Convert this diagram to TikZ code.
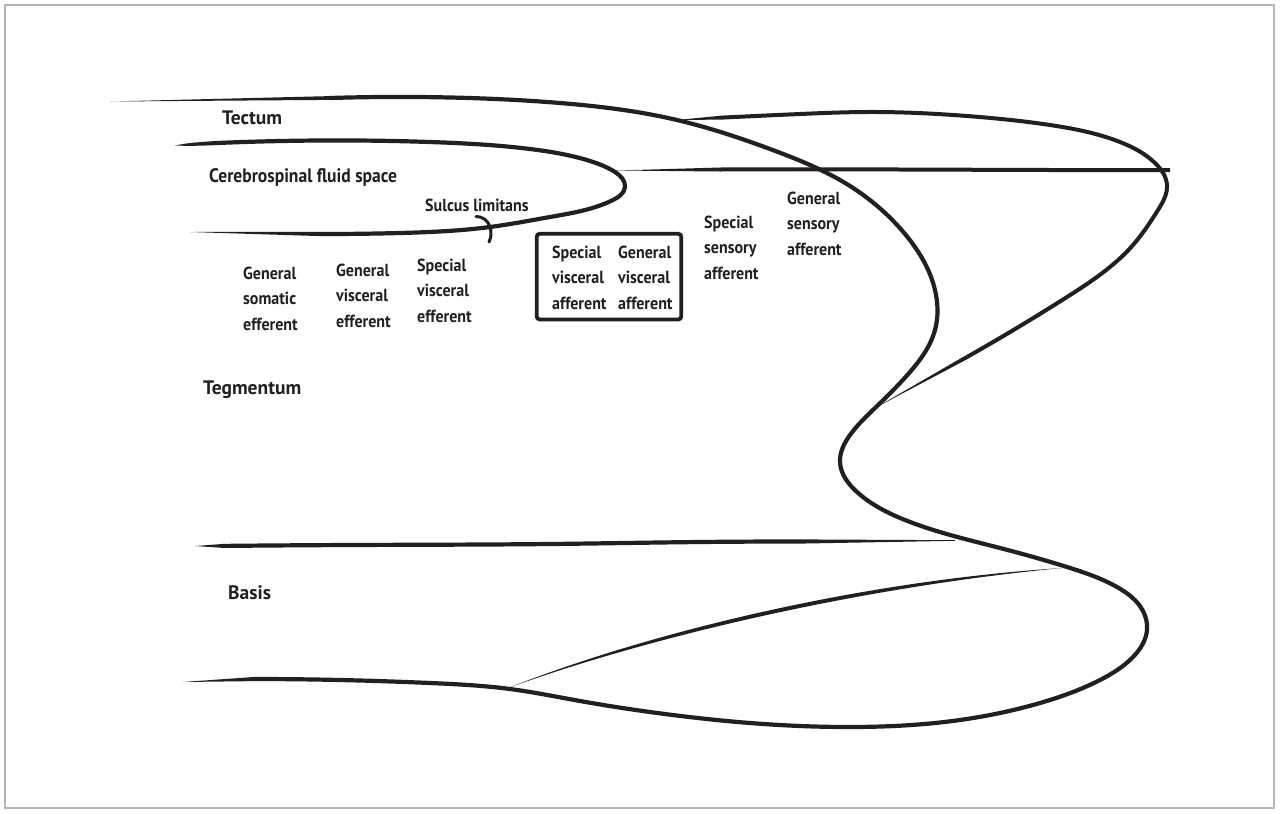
\documentclass[tikz,border=0pt]{standalone}
\usepackage{fontspec}
\newfontfamily\lblfont{PT Sans}
\usetikzlibrary{hobby}

\definecolor{inkc}{HTML}{231F20}
\definecolor{framec}{HTML}{B5B5B5}

\tikzset{
  contour/.style={draw=inkc, line width=#1, line join=round, use Hobby shortcut},
  contour/.default=4.2pt,
  wedge/.style={fill=inkc},
  heading/.style={font=\lblfont\bfseries\fontsize{19.5pt}{24pt}\selectfont, text=inkc, inner sep=0pt, anchor=base west},
  tag/.style={font=\lblfont\bfseries\fontsize{17.5pt}{25.5pt}\selectfont, text=inkc, inner sep=0pt, anchor=base west},
  boxed/.style={draw=inkc, line width=3.8pt, rounded corners=3pt, inner sep=0pt,
    minimum width=144.6pt, minimum height=85.7pt},
}
% narrow left-aligned stack of lines, baseline on the first line
\newcommand\stackl[1]{\scalebox{0.915}[1]{\begin{tabular}[t]{@{}l@{}}#1\end{tabular}}}

\begin{document}
\begin{tikzpicture}[x=1pt,y=-1pt]
\useasboundingbox (0,0) rectangle (1280,814);
\fill[white] (0,0) rectangle (1280,814);
\draw[framec, line width=1.3pt] (5,5) rectangle (1274,808);

% outer contour: tectum surface, lateral bulge, basis surface
\fill[wedge] (110,101.5) -- (330,96.1) -- (330,99.9) -- cycle;
\draw[contour] (330,98) .. (450,97.5) .. (560,103) .. (677,120) .. (770,149)
  .. (850,186) .. (905,234) .. (935,290) .. (935,330) .. (910,372) .. (875,408)
  .. (850,435) .. (840,462) .. (857,492) .. (905,520) .. (1000,548) .. (1067,567)
  .. (1117,587) .. (1143,611) .. (1147,630) .. (1133,657) .. (1100,680)
  .. (1040,703) .. (960,720) .. (850,727) .. (750,723) .. (650,712) .. (580,701)
  .. (510,689) .. (430,683) .. (340,680) .. (255,679);
\fill[wedge] (255,676.9) -- (183,682) -- (255,681.1) -- cycle;

% dorsal loop
\fill[wedge] (677,120) -- (722,115.6) -- (722,119.6) -- cycle;
\draw[contour=4pt] (722,117.6) .. (800,114) .. (867,112) .. (967,116) .. (1050,125) .. (1120,142)
  .. (1156,164) .. (1167,185) .. (1158,210) .. (1133,245) .. (1067,297) .. (967,357);
\fill[wedge] (968.03,358.71) -- (875,408) -- (965.97,355.29) -- cycle;

% fluid space floor line
\fill[wedge] (617,170.5) -- (720,167.5) -- (720,171.5) -- cycle;
\draw[contour=4pt] (720,169.5) .. (900,169.5) .. (1050,170) .. (1170,170);

% cerebrospinal fluid space outline
\fill[wedge] (175,145.5) .. controls (188,143) .. (215,141) -- (215,145.2) .. controls (190,146) .. (175,145.5) -- cycle;
\draw[contour] (215,143.1) .. (320,140.5) .. (430,142) .. (530,149) .. (590,161)
  .. (615,172) .. (625,187) .. (613,200) .. (550,217) .. (490,227) .. (400,233) .. (320,234);
\fill[wedge] (320,231.9) -- (190,232) -- (320,236.1) -- cycle;

% sulcus limitans mark
\draw[contour=3pt, line cap=round] (476,216.5) .. (485,219.5) .. (490,227) .. (489,242);

% tegmentum / basis boundary
\fill[wedge] (195,546) -- (225,543.8) -- (225,548) -- cycle;
\draw[contour] (225,545.9) .. (350,545) .. (550,544) .. (700,542) .. (800,541.5);
\fill[wedge] (800,539.4) -- (955,540.2) -- (955,540.8) -- (800,543.6) -- cycle;

% basis diagonal: a tapered lens from its root on the basis surface to its tip
\fill[wedge] (508,688) .. controls (639.3,636.1) and (849.7,581.75) .. (1062,568)
  .. controls (850.3,588.25) and (640.7,639.9) .. (508,688) -- cycle;

% labels
\node[boxed] (afferentbox) at (609,276.6) {};
\node[heading] (tectum) at (222,124) {Tectum};
\node[heading] (csf) at (209,182) {\scalebox{0.9}[1]{Cerebrospinal fluid space}};
\node[tag] (sulcus) at (425,211) {\scalebox{0.915}[1]{Sulcus limitans}};
\node[tag] (gse) at (243,279) {\stackl{General\\somatic\\efferent}};
\node[tag] (gve) at (336,276) {\stackl{General\\visceral\\efferent}};
\node[tag] (sve) at (417,271) {\stackl{Special\\visceral\\efferent}};
\node[tag] (sva) at (552,258) {\stackl{Special\\visceral\\afferent}};
\node[tag] (gva) at (618,258) {\stackl{General\\visceral\\afferent}};
\node[tag] (ssa) at (704,228) {\stackl{Special\\sensory\\afferent}};
\node[tag] (gsa) at (787,204) {\stackl{General\\sensory\\afferent}};
\node[heading] (teg) at (203,394) {Tegmentum};
\node[heading] (basis) at (228,599) {Basis};
\end{tikzpicture}
\end{document}
